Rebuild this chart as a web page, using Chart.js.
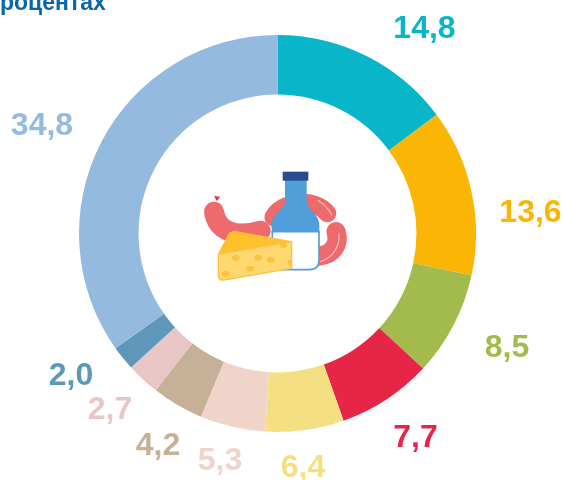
<!DOCTYPE html>
<html>
<head>
<meta charset="utf-8">
<style>
  html, body { margin: 0; padding: 0; background: #fff; overflow: hidden; }
  canvas { display: block; }
</style>
<script src="https://cdn.jsdelivr.net/npm/chart.js@4"></script>
</head>
<body>
<canvas id="food_chart" width="563" height="480"></canvas>
<script>
const categories = ["a", "b", "c", "d", "e", "f", "g", "h", "i", "j"];
const values = [14.8, 13.6, 8.5, 7.7, 6.4, 5.3, 4.2, 2.7, 2.0, 34.8];
const colors = ["#09B5C8", "#FBB505", "#A3BB4C", "#E72546", "#F4E083", "#F1D4C9", "#C6B097", "#E9C6C6", "#5F97BA", "#95BAE0"];
const title_text = "роцентах";

// where each value label sits, x and y of its centre
const label_x = [424.5, 530.5, 507, 415.5, 303, 220, 158, 110, 71, 42];
const label_y = [29, 213, 348, 438, 468, 461, 446, 410, 376, 126];

function path(ctx, d, fill, stroke, width) {
  const p = new Path2D(d);
  if (fill) {
    ctx.fillStyle = fill;
    ctx.fill(p);
  }
  if (stroke) {
    ctx.strokeStyle = stroke;
    ctx.lineWidth = width;
    ctx.lineCap = "round";
    ctx.lineJoin = "round";
    ctx.stroke(p);
  }
}

function hole(ctx, x, y, rx, ry) {
  ctx.fillStyle = "#FBC243";
  ctx.beginPath();
  ctx.ellipse(x, y, rx, ry, 0, 0, Math.PI * 2);
  ctx.fill();
}

// food picture in the middle, drawn in the units of the 3x crop
function drawIcon(ctx) {
  ctx.save();
  ctx.translate(190, 160);
  ctx.scale(1 / 3, 1 / 3);

  // sausages
  path(ctx, "M72 108 L90 110 L81 124 Z", "#E0304A");
  path(ctx, "M72 155 C80 208 130 236 212 212", null, "#EE6A6C", 60);
  path(ctx, "M250 172 C275 125 370 108 412 160", null, "#EE6A6C", 54);
  path(ctx, "M438 215 C450 250 430 285 385 288", null, "#EE6A6C", 58);
  path(ctx, "M385 122 C402 132 415 145 425 165", null, "#F6B3B3", 4);
  path(ctx, "M447 222 C450 262 425 296 390 305", null, "#F6B3B3", 4);

  // bottle
  path(ctx, "M247 215 L387 215 L387 300 Q387 329 358 329 L275 329 Q247 329 247 300 Z", "#FFFFFF", "#519FD8", 5);
  path(ctx, "M285 60 L350 60 L350 125 C352 150 388 160 388 195 L388 216 L245 216 L245 195 C245 160 283 150 285 125 Z", "#519FD8");
  path(ctx, "M278 35 L355 35 L355 62 L278 62 Z", "#2A4A8F");

  // cheese
  path(ctx, "M85 282 L118 220 Q125 212 140 215 L305 245 Z", "#FFC02D", "#FFC02D", 3);
  path(ctx, "M85 282 L305 245 L305 325 L100 360 Q85 362 85 345 Z", "#FFD970", "#FBC243", 4);
  hole(ctx, 137, 293, 12, 9);
  hole(ctx, 205, 293, 12, 9);
  hole(ctx, 242, 299, 12, 9);
  hole(ctx, 181, 326, 12, 9);
  hole(ctx, 107, 341, 12, 9);
  hole(ctx, 280, 256, 11, 8);
  hole(ctx, 300, 308, 6, 9);
  ctx.restore();
}

const overlay_plugin = {
  id: "overlay",
  afterDraw(chart) {
    const ctx = chart.ctx;
    drawIcon(ctx);
    ctx.save();
    ctx.textAlign = "center";
    ctx.textBaseline = "middle";
    ctx.font = "bold 32px 'Liberation Sans'";
    values.forEach(function(v, i) {
      ctx.fillStyle = colors[i];
      ctx.fillText(v.toFixed(1).replace(".", ","), label_x[i], label_y[i]);
    });
    ctx.textAlign = "left";
    ctx.textBaseline = "alphabetic";
    ctx.font = "bold 23px 'Liberation Sans'";
    ctx.fillStyle = "#0A66A8";
    ctx.fillText(title_text, 0, 10);
    ctx.restore();
  }
};

new Chart("food_chart", {
  type: "doughnut",
  data: {
    labels: categories,
    datasets: [{
      data: values,
      backgroundColor: colors,
      borderWidth: 0
    }]
  },
  options: {
    responsive: false,
    animation: false,
    cutout: "70%",
    layout: {
      padding: { left: 79, top: 35, right: 87, bottom: 48 }
    },
    plugins: {
      legend: { display: false },
      tooltip: { enabled: false }
    }
  },
  plugins: [overlay_plugin]
});
</script>
</body>
</html>
